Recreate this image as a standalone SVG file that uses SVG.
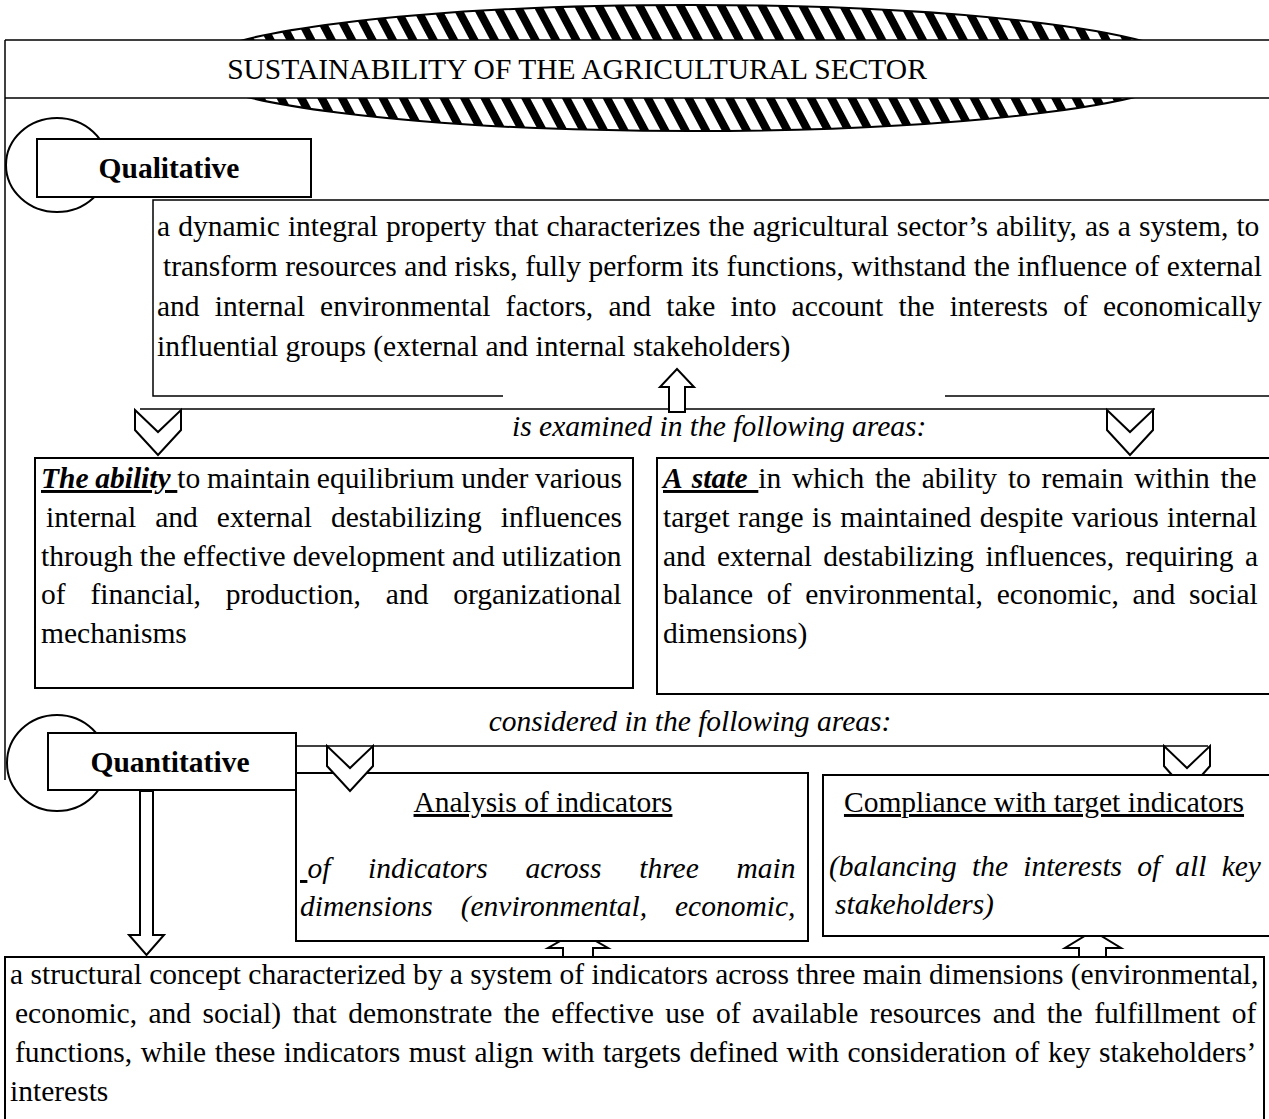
<svg xmlns="http://www.w3.org/2000/svg" width="1269" height="1119" viewBox="0 0 1269 1119">
  <style>
    .t { font-family: 'Liberation Serif', 'Times New Roman', serif; font-size: 29.5px; fill: #000; white-space: pre; }
    .i { font-style: italic; }
    .b { font-weight: bold; }
    .u { text-decoration: underline; }
    .box { fill: #fff; stroke: #000; stroke-width: 2; }
    .ln { fill: none; stroke: #000; stroke-width: 1.5; }
    .arr { fill: #fff; stroke: #000; stroke-width: 2; stroke-linejoin: miter; }
  </style>
  <defs>
    <pattern id="hatch" patternUnits="userSpaceOnUse" width="18" height="18" patternTransform="rotate(-28)">
      <rect width="18" height="18" fill="#fff"/>
      <rect width="8" height="18" fill="#000"/>
    </pattern>
  </defs>
  <rect width="1269" height="1119" fill="#fff"/>

  <!-- title banner laid over a hatched ellipse -->
  <g id="title">
    <ellipse cx="691" cy="68" rx="500" ry="63" fill="url(#hatch)" stroke="#000" stroke-width="2"/>
    <rect x="5" y="40" width="1270" height="58" fill="#fff"/>
    <path class="ln" d="M5,40 H1269 M5,98 H1269"/>
    <text class="t" x="577" y="79" text-anchor="middle">SUSTAINABILITY OF THE AGRICULTURAL SECTOR</text>
  </g>

  <!-- frame line down the left side -->
  <path class="ln" d="M5,40 V780"/>

  <g id="connectors">
    <!-- bar under the definition -->
    <path class="ln" d="M140,409 H1155"/>
    <!-- hollow up arrow into the definition -->
    <polygon class="arr" points="669,412 669,387 660,387 677,369 694,387 685,387 685,412"/>
    <!-- chevrons down to the two areas -->
    <polygon class="arr" points="135,410 158,432 181,410 181,430 158,455 135,430"/>
    <polygon class="arr" points="1107,410 1130,432 1153,410 1153,430 1130,455 1107,430"/>
    <!-- band from the quantitative label -->
    <path class="ln" d="M296,746 H1208"/>
    <polygon class="arr" points="1164,746 1187,768 1210,746 1210,766 1187,792 1164,766"/>
    <!-- hollow down arrow to the structural concept -->
    <polygon class="arr" points="140,791 153,791 153,935 164,935 146.5,955 129,935 140,935"/>
    <!-- hollow up arrows from the structural concept (heads pass under the boxes) -->
    <polygon class="arr" points="563,957 563,948 548,948 578,931 608,948 593,948 593,957"/>
    <polygon class="arr" points="1079,957 1079,948 1065,948 1093,931 1121,948 1106,948 1106,957"/>
  </g>

  <g id="qualitative">
    <ellipse cx="57" cy="165" rx="51" ry="47" fill="none" stroke="#000" stroke-width="2"/>
    <rect class="box" x="37" y="139" width="274" height="58"/>
    <text class="t b" x="169" y="178" text-anchor="middle">Qualitative</text>
  </g>

  <g id="definition">
    <path class="ln" d="M503,396 H153 V200 H1269 M945,396 H1269" stroke-width="1.8"/>
    <text class="t" x="157" y="236" word-spacing="0.74">a dynamic integral property that characterizes the agricultural sector’s ability, as a system, to</text>
    <text class="t" x="163" y="276" word-spacing="0.23">transform resources and risks, fully perform its functions, withstand the influence of external</text>
    <text class="t" x="157" y="316" word-spacing="7.8">and internal environmental factors, and take into account the interests of economically</text>
    <text class="t" x="157" y="356">influential groups (external and internal stakeholders)</text>
  </g>

  <text class="t i" x="512" y="436">is examined in the following areas:</text>

  <g id="ability">
    <rect class="box" x="35" y="458" width="598" height="230"/>
    <text class="t" x="41" y="488" word-spacing="-0.68"><tspan class="b i u">The ability </tspan>to maintain equilibrium under various</text>
    <text class="t" x="46" y="527" word-spacing="11.7">internal and external destabilizing influences</text>
    <text class="t" x="41" y="566" word-spacing="-0.3">through the effective development and utilization</text>
    <text class="t" x="41" y="604" word-spacing="17.45">of financial, production, and organizational</text>
    <text class="t" x="41" y="643">mechanisms</text>
  </g>

  <g id="state">
    <rect class="box" x="657" y="458" width="620" height="236"/>
    <text class="t" x="663" y="488" word-spacing="3.4"><tspan class="b i u">A state </tspan>in which the ability to remain within the</text>
    <text class="t" x="663" y="527" word-spacing="1.1">target range is maintained despite various internal</text>
    <text class="t" x="663" y="566" word-spacing="4.0">and external destabilizing influences, requiring a</text>
    <text class="t" x="663" y="604" word-spacing="6.4">balance of environmental, economic, and social</text>
    <text class="t" x="663" y="643">dimensions)</text>
  </g>

  <text class="t i" x="690" y="731" text-anchor="middle">considered in the following areas:</text>

  <g id="quantitative">
    <ellipse cx="57" cy="763" rx="50" ry="48" fill="none" stroke="#000" stroke-width="2"/>
    <rect class="box" x="48" y="733" width="248" height="57"/>
    <text class="t b" x="170" y="772" text-anchor="middle">Quantitative</text>
  </g>

  <g id="analysis">
    <rect class="box" x="296" y="773" width="512" height="168"/>
    <polygon class="arr" points="327,746 350,768 373,746 373,766 350,791 327,766"/>
    <text class="t u" x="543" y="812" text-anchor="middle">Analysis of indicators</text>
    <text class="t i" x="300" y="878" word-spacing="30.4"><tspan class="u" word-spacing="0"> </tspan>of indicators across three main</text>
    <text class="t i" x="300" y="916" word-spacing="20.5">dimensions (environmental, economic,</text>
  </g>

  <g id="compliance">
    <rect class="box" x="823" y="775" width="460" height="161"/>
    <text class="t u" x="1044" y="812" text-anchor="middle">Compliance with target indicators</text>
    <text class="t i" x="829" y="876" word-spacing="7.8">(balancing the interests of all key</text>
    <text class="t i" x="835" y="914">stakeholders)</text>
  </g>

  <g id="structural">
    <rect class="box" x="5" y="957" width="1259" height="170"/>
    <text class="t" x="10" y="984" word-spacing="0">a structural concept characterized by a system of indicators across three main dimensions (environmental,</text>
    <text class="t" x="15" y="1023" word-spacing="4.04">economic, and social) that demonstrate the effective use of available resources and the fulfillment of</text>
    <text class="t" x="15" y="1062" word-spacing="1.12">functions, while these indicators must align with targets defined with consideration of key stakeholders’</text>
    <text class="t" x="10" y="1101">interests</text>
  </g>
</svg>
